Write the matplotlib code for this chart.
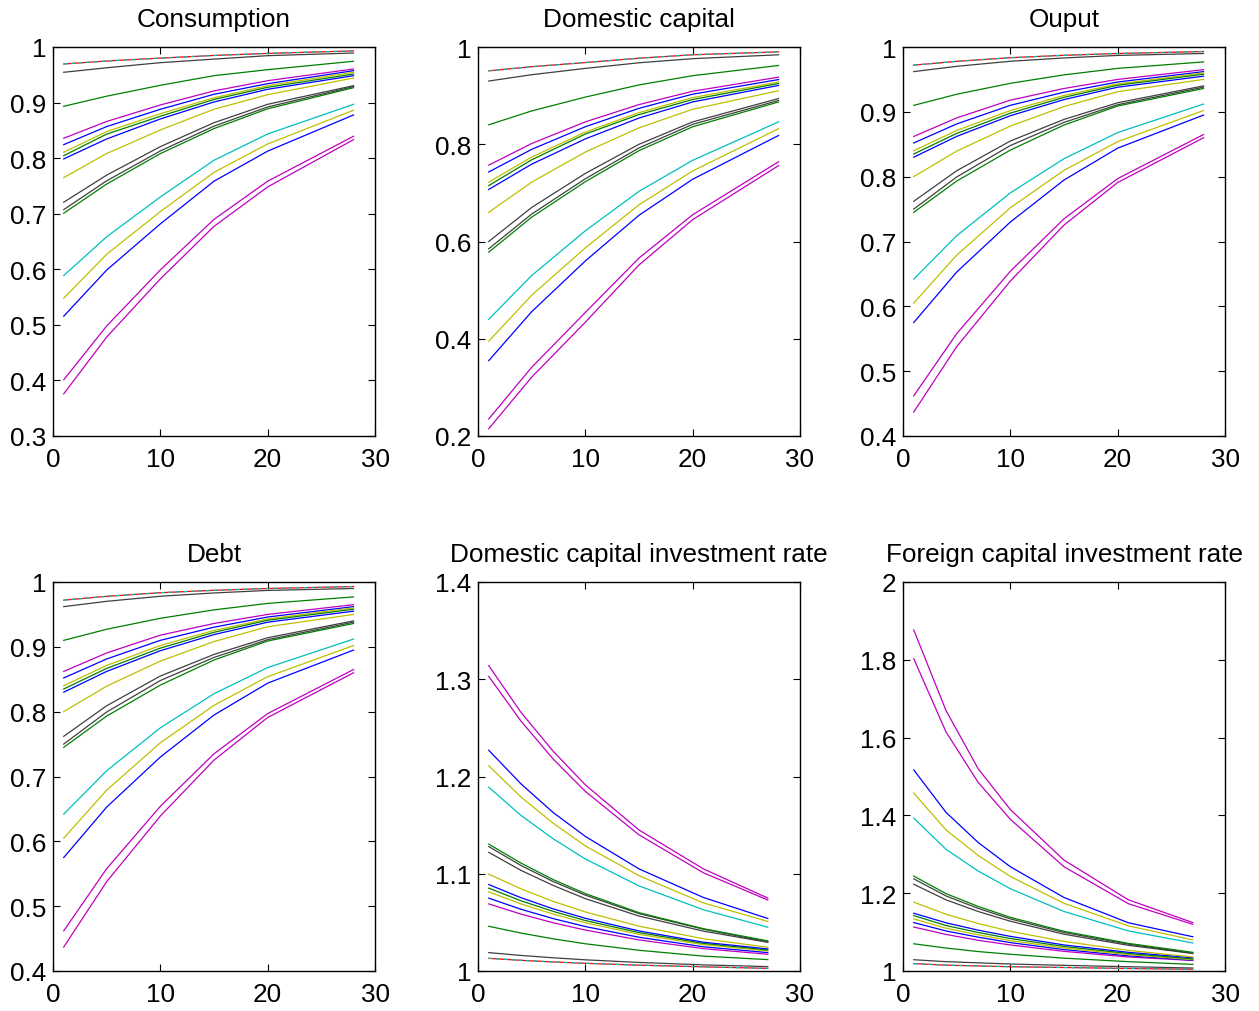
import matplotlib
matplotlib.use("Agg")
import matplotlib.pyplot as plt
from matplotlib.ticker import FormatStrFormatter

plt.rcParams['font.family'] = ['Liberation Sans', 'DejaVu Sans']

# MATLAB's old default colour order
COL = {'b': (0, 0, 1), 'g': (0, 0.5, 0), 'r': (1, 0, 0), 'c': (0, 0.75, 0.75),
       'm': (0.75, 0, 0.75), 'y': (0.75, 0.75, 0), 'k': (0.25, 0.25, 0.25)}

# one colour per path, same order in every panel (top to bottom at t=1)
line_colors = ['r', 'c', 'k', 'g', 'm', 'b', 'y', 'g', 'b', 'y',
               'k', 'k', 'g', 'c', 'y', 'b', 'm', 'm']

t_level = [1, 5, 10, 15, 20, 28]
t_rate = [1, 4, 7, 10, 15, 21, 27]

consumption = [
    [.9694, .9748, .9800, .9848, .9885, .9930],
    [.9694, .9748, .9800, .9848, .9885, .9930],
    [.9545, .9626, .9718, .9782, .9844, .9892],
    [.8933, .9115, .9311, .9484, .9592, .9743],
    [.8358, .8660, .8957, .9210, .9394, .9604],
    [.8243, .8568, .8879, .9149, .9340, .9574],
    [.8106, .8477, .8800, .9086, .9304, .9545],
    [.8045, .8432, .8754, .9056, .9275, .9514],
    [.7986, .8345, .8705, .9011, .9239, .9484],
    [.7649, .8083, .8507, .8880, .9142, .9442],
    [.7207, .7694, .8207, .8638, .8969, .9304],
    [.7074, .7592, .8129, .8576, .8921, .9286],
    [.7009, .7534, .8081, .8532, .8888, .9268],
    [.5887, .6585, .7302, .7962, .8435, .8969],
    [.5480, .6270, .7038, .7745, .8255, .8862],
    [.5156, .5986, .6817, .7585, .8126, .8777],
    [.4011, .4980, .5989, .6898, .7585, .8394],
    [.3759, .4780, .5827, .6772, .7482, .8333],
]

domestic_capital = [
    [.951, .9595, .968, .977, .984, .990],
    [.951, .9595, .968, .977, .984, .990],
    [.930, .943, .956, .9675, .976, .984],
    [.840, .8685, .897, .922, .941, .962],
    [.757, .8015, .846, .8816, .909, .938],
    [.743, .7895, .836, .8739, .903, .933],
    [.722, .7737, .825, .8651, .896, .928],
    [.715, .768, .821, .861, .892, .925],
    [.707, .759, .811, .8539, .887, .921],
    [.660, .722, .784, .8337, .872, .910],
    [.600, .670, .740, .7999, .846, .894],
    [.585, .6564, .729, .7924, .841, .890],
    [.578, .650, .723, .7869, .836, .887],
    [.440, .530, .622, .7032, .767, .846],
    [.395, .4894, .587, .6755, .745, .832],
    [.355, .4556, .560, .654, .728, .818],
    [.235, .3413, .454, .566, .655, .764],
    [.215, .321, .434, .5517, .645, .756],
]

output = [
    [.972, .9779, .9835, .9872, .990, .993],
    [.972, .9779, .9835, .9872, .990, .993],
    [.962, .9702, .978, .9831, .987, .990],
    [.910, .9271, .944, .957, .967, .977],
    [.862, .8906, .918, .936, .950, .965],
    [.852, .8813, .910, .9303, .946, .962],
    [.840, .8713, .902, .9253, .943, .960],
    [.835, .8667, .898, .9224, .941, .958],
    [.830, .8621, .894, .9189, .938, .955],
    [.800, .8394, .878, .9082, .931, .950],
    [.762, .8091, .855, .8883, .914, .940],
    [.750, .7995, .848, .8837, .911, .938],
    [.745, .7932, .841, .8797, .909, .936],
    [.642, .7089, .775, .8277, .868, .912],
    [.605, .6789, .752, .8097, .854, .902],
    [.575, .6528, .730, .7948, .844, .895],
    [.462, .5578, .654, .735, .797, .865],
    [.437, .5378, .639, .7253, .791, .860],
]

# debt panel shows the same paths as output
debt = [row[:] for row in output]

dk_invest = [
    [1.013, 1.011, 1.0093, 1.0079, 1.006, 1.0043, 1.0027],
    [1.013, 1.011, 1.0093, 1.0079, 1.006, 1.0043, 1.0027],
    [1.0189, 1.016, 1.0136, 1.0115, 1.0088, 1.0063, 1.0045],
    [1.046, 1.039, 1.0331, 1.028, 1.0213, 1.0153, 1.0117],
    [1.069, 1.0585, 1.0496, 1.0421, 1.032, 1.023, 1.0172],
    [1.0749, 1.0635, 1.0539, 1.0457, 1.0347, 1.0249, 1.0189],
    [1.0814, 1.069, 1.0585, 1.0496, 1.0377, 1.0271, 1.0206],
    [1.0852, 1.0722, 1.0613, 1.0519, 1.0395, 1.0284, 1.0216],
    [1.0889, 1.0754, 1.0639, 1.0542, 1.0412, 1.0296, 1.0227],
    [1.0996, 1.0845, 1.0716, 1.0607, 1.0461, 1.0332, 1.0244],
    [1.122, 1.1035, 1.088, 1.0744, 1.0565, 1.041, 1.0295],
    [1.128, 1.1085, 1.092, 1.078, 1.059, 1.043, 1.030],
    [1.1305, 1.111, 1.094, 1.0796, 1.060, 1.0435, 1.031],
    [1.189, 1.160, 1.136, 1.1152, 1.0875, 1.063, 1.045],
    [1.211, 1.179, 1.152, 1.1286, 1.098, 1.070, 1.051],
    [1.227, 1.1925, 1.163, 1.1384, 1.105, 1.0756, 1.054],
    [1.303, 1.257, 1.218, 1.1847, 1.140, 1.101, 1.073],
    [1.314, 1.266, 1.226, 1.1914, 1.145, 1.105, 1.075],
]

fk_invest = [
    [1.019, 1.015, 1.013, 1.011, 1.009, 1.0065, 1.0043],
    [1.019, 1.015, 1.013, 1.011, 1.009, 1.0065, 1.0043],
    [1.029, 1.024, 1.021, 1.018, 1.0145, 1.011, 1.0077],
    [1.070, 1.059, 1.050, 1.043, 1.033, 1.024, 1.017],
    [1.113, 1.094, 1.079, 1.067, 1.0505, 1.036, 1.027],
    [1.1245, 1.103, 1.087, 1.073, 1.055, 1.039, 1.028],
    [1.134, 1.110, 1.093, 1.078, 1.059, 1.042, 1.029],
    [1.1425, 1.117, 1.099, 1.0835, 1.063, 1.045, 1.031],
    [1.1485, 1.124, 1.105, 1.089, 1.067, 1.048, 1.034],
    [1.177, 1.146, 1.122, 1.102, 1.076, 1.053, 1.036],
    [1.223, 1.183, 1.153, 1.128, 1.0945, 1.066, 1.045],
    [1.237, 1.193, 1.161, 1.134, 1.099, 1.069, 1.046],
    [1.244, 1.199, 1.166, 1.138, 1.102, 1.071, 1.048],
    [1.393, 1.313, 1.257, 1.2115, 1.153, 1.103, 1.072],
    [1.4575, 1.363, 1.297, 1.243, 1.174, 1.116, 1.080],
    [1.517, 1.408, 1.3305, 1.268, 1.189, 1.124, 1.088],
    [1.803, 1.615, 1.485, 1.390, 1.268, 1.173, 1.120],
    [1.877, 1.670, 1.520, 1.415, 1.285, 1.183, 1.1245],
]

titles = ['Consumption', 'Domestic capital', 'Ouput', 'Debt',
          'Domestic capital investment rate', 'Foreign capital investment rate']
ylims = [(0.3, 1), (0.2, 1), (0.4, 1), (0.4, 1), (1, 1.4), (1, 2)]
yticks = [[0.3, 0.4, 0.5, 0.6, 0.7, 0.8, 0.9, 1],
          [0.2, 0.4, 0.6, 0.8, 1],
          [0.4, 0.5, 0.6, 0.7, 0.8, 0.9, 1],
          [0.4, 0.5, 0.6, 0.7, 0.8, 0.9, 1],
          [1, 1.1, 1.2, 1.3, 1.4],
          [1, 1.2, 1.4, 1.6, 1.8, 2]]
xticks = [0, 10, 20, 30]

panels = [(t_level, consumption), (t_level, domestic_capital), (t_level, output),
          (t_level, debt), (t_rate, dk_invest), (t_rate, fk_invest)]

W, H = 1259, 1012
fig = plt.figure(figsize=(W / 100, H / 100), dpi=100)

lefts = [53, 478, 903]
tops = [48, 583]
aw, ah = 322, 389

for i, (t, series) in enumerate(panels):
    row, col = divmod(i, 3)
    ax = fig.add_axes([lefts[col] / W, 1 - (tops[row] + ah) / H, aw / W, ah / H])
    for j, (c, ys) in enumerate(zip(line_colors, series)):
        if j == 1:
            # cyan path lies right on top of the red one
            ax.plot(t, ys, color=COL[c], lw=0.9, dashes=(3, 3))
        else:
            ax.plot(t, ys, color=COL[c], lw=0.9)
    ax.set_xlim(0, 30)
    ax.set_ylim(*ylims[i])
    ax.set_xticks(xticks)
    ax.set_yticks(yticks[i])
    ax.yaxis.set_major_formatter(FormatStrFormatter('%g'))
    ax.tick_params(direction='in', top=True, right=True, length=5, width=0.8,
                   labelsize=18.8)
    ax.tick_params(axis='x', pad=8)
    ax.tick_params(axis='y', pad=5)
    for s in ax.spines.values():
        s.set_linewidth(1.0)
    ax.set_title(titles[i], fontsize=18.8, pad=15)

fig.savefig('out.png', dpi=100)
